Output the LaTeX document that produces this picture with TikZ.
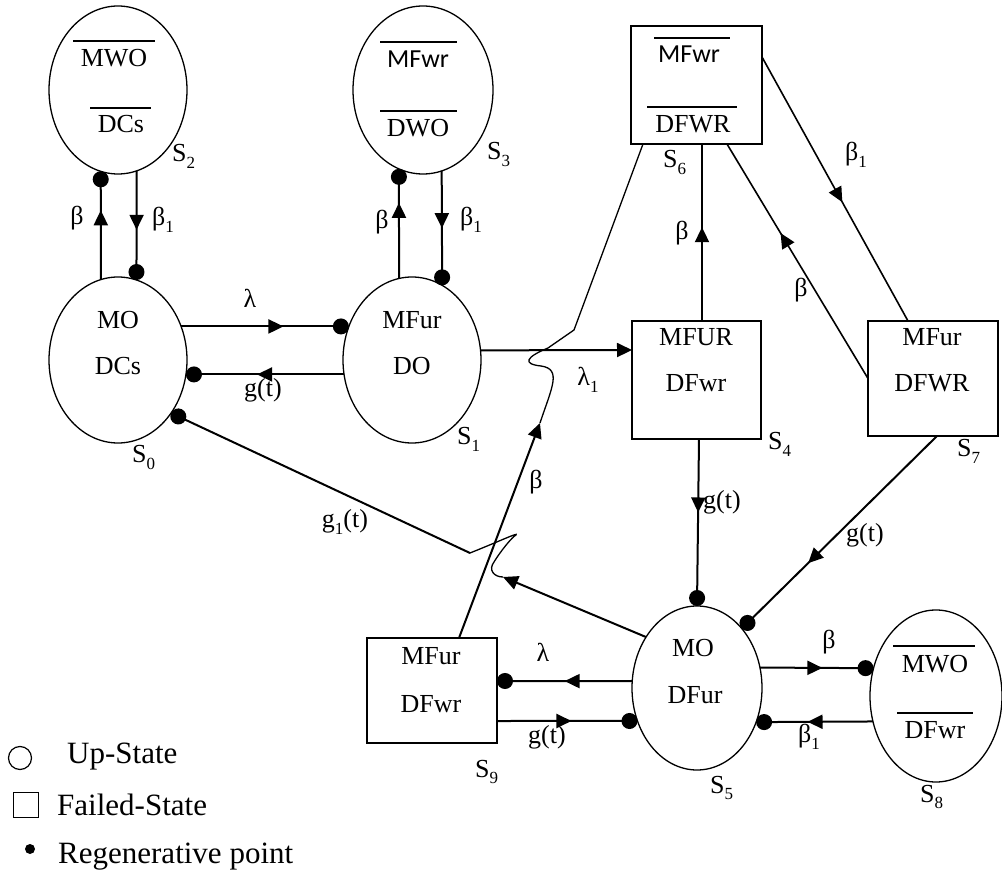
\documentclass[tikz,border=0pt]{standalone}
\usepackage{fontspec}
\setmainfont{Liberation Serif}
\newfontfamily\calib{Carlito}
\usetikzlibrary{shapes.geometric,arrows.meta,decorations.markings,calc}
\newcommand{\dn}[1]{\raisebox{-0.25em}{\fontsize{17}{17}\selectfont #1}}
\begin{document}
\begin{tikzpicture}[x=1pt,y=-1pt,
  conn/.style={line width=2pt},
  thinconn/.style={line width=1.3pt},
  dotend/.style={-{Circle[length=16pt]}},
  tipend/.style={-{Triangle[length=15pt,width=14pt]}},
  mid/.style={postaction={decorate,decoration={markings,mark=at position #1 with {\arrow{Triangle[length=15pt,width=14pt]}}}}},
  stE/.style={ellipse, draw, line width=1.3pt, inner sep=0pt, outer sep=0pt},
  stR/.style={rectangle, draw, line width=1.5pt, inner sep=0pt, outer sep=0pt},
  txt/.style={font=\fontsize{26}{30}\selectfont, inner sep=0pt, anchor=base},
  el/.style={font=\fontsize{26}{30}\selectfont, inner sep=0pt},
  sl/.style={font=\fontsize{26}{30}\selectfont, inner sep=0pt, anchor=base west},
  lg/.style={font=\fontsize{31}{35}\selectfont, inner sep=0pt, anchor=base west},
  ovl/.style={line width=1.3pt}
]
\useasboundingbox (0,0) rectangle (1002,882);

% ---------- states ----------
\node[stE, minimum width=138pt, minimum height=166pt] (s0) at (118,360) {};
\node[stE, minimum width=138pt, minimum height=166pt] (s1) at (412,360) {};
\node[stE, minimum width=138pt, minimum height=168pt] (s2) at (118,90) {};
\node[stE, minimum width=140pt, minimum height=168pt] (s3) at (423,90) {};
\node[stE, minimum width=130pt, minimum height=164pt] (s5) at (697,688) {};
\node[stE, minimum width=132pt, minimum height=172pt] (s8) at (936,696) {};
\node[stR, minimum width=129pt, minimum height=118pt] (s4) at (696.5,380) {};
\node[stR, minimum width=131pt, minimum height=118pt] (s6) at (696.5,85) {};
\node[stR, minimum width=130pt, minimum height=115pt] (s7) at (933,378.5) {};
\node[stR, minimum width=130pt, minimum height=105pt] (s9) at (432,690.5) {};

% ---------- state texts ----------
\node[txt] (t0a) at (118,329) {MO};
\node[txt] (t0b) at (118,375) {DCs};
\node[txt] (t1a) at (412,329) {MFur};
\node[txt] (t1b) at (412,375) {DO};
\node[txt] (t2a) at (114,67) {MWO};
\node[txt] (t2b) at (121,133) {DCs};
\draw[ovl] (73,41) -- (155,41);
\draw[ovl] (90,108) -- (151,108);
\node[txt] (t3a) at (418,68) {\calib MFwr};
\node[txt] (t3b) at (418,137) {DWO};
\draw[ovl] (380,42) -- (457,42);
\draw[ovl] (380,111) -- (457,111);
\node[txt] (t6a) at (689,63) {\calib MFwr};
\node[txt] (t6b) at (693,133) {DFWR};
\draw[ovl] (654,38) -- (730,38);
\draw[ovl] (647,107) -- (737,107);
\node[txt] (t4a) at (696,346) {MFUR};
\node[txt] (t4b) at (696,392) {DFwr};
\node[txt] (t7a) at (932,346) {MFur};
\node[txt] (t7b) at (932,392) {DFWR};
\node[txt] (t9a) at (431,664) {MFur};
\node[txt] (t9b) at (431,712) {DFwr};
\node[txt] (t5a) at (693,656) {MO};
\node[txt] (t5b) at (695,703) {DFur};
\node[txt] (t8a) at (935,672) {MWO};
\node[txt] (t8b) at (935,738) {DFwr};
\draw[ovl] (893,646) -- (975,646);
\draw[ovl] (897,713) -- (973,713);

% ---------- state labels ----------
\node[sl] (l0) at (132,463) {S\dn{0}};
\node[sl] (l1) at (457,445) {S\dn{1}};
\node[sl] (l2) at (172,162) {S\dn{2}};
\node[sl] (l3) at (487,160) {S\dn{3}};
\node[sl] (l4) at (768,450) {S\dn{4}};
\node[sl] (l5) at (710,793) {S\dn{5}};
\node[sl] (l6) at (663,168) {S\dn{6}};
\node[sl] (l7) at (957,457) {S\dn{7}};
\node[sl] (l8) at (920,802) {S\dn{8}};
\node[sl] (l9) at (475,777) {S\dn{9}};

% ---------- connectors ----------
\draw[conn, dotend, mid=0.64] (s0.102) -- (s2.258);
\draw[conn, dotend, mid=0.54] (s2.-77) -- (s0.77);
\draw[conn, dotend, mid=0.69] (s1.99) -- (s3.253);
\draw[conn, dotend, mid=0.5] (s3.-77) -- (s1.68);
\draw[conn, dotend, mid=0.61] (s0.28) -- (s1.152);
\draw[conn, dotend, mid=0.55] (s1.192) -- (s0.-12);
\draw[conn, tipend] (s1.8) -- ($(s4.west)+(0,-30)$);
\draw[conn, mid=0.53] ($(s4.north)+(5.5,0)$) -- ($(s6.south)+(5.5,0)$);
\draw[line width=1.6pt, mid=0.62] (s7.west) -- ($(s6.south)+(30.5,0)$);
\draw[line width=1.6pt, mid=0.55] ($(s6.east)+(0,-28)$) -- ($(s7.north)+(-25,0)$);
\draw[conn, dotend, mid=0.44] ($(s4.south)+(2.5,0)$) -- (s5.north);
\draw[conn, dotend, mid=0.66] ($(s7.south)+(4,0)$) -- (s5.53);
\draw[conn, dotend, mid=0.55] (s5.18) -- (s8.156);
\draw[conn, dotend, mid=0.56] (s8.202) -- (s5.-30);
\draw[conn, dotend, mid=0.5] (s5.174) -- ($(s9.east)+(0,-9.5)$);
\draw[conn, dotend, mid=0.53] ($(s9.east)+(0,30.5)$) -- (s5.209);

% S9 -> S6 (beta) with jump over lambda1
\coordinate (p1) at (540,423);
\coordinate (p2) at (574,330);
\draw[conn, tipend] ($(s9.north)+(27,0)$) -- (p1);
\draw[thinconn] (p1) .. controls (552,387) and (562,369) .. (541,366)
   .. controls (522,364) and (526,357) .. (548,348) -- (p2)
   -- ($(s6.south west)+(12,0)$);

% S5 -> S0 (g1(t)) with jump over beta
\coordinate (q1) at (503,577);
\coordinate (q2) at (470,553);
\draw[conn, tipend] (s5.135) -- (q1);
\draw[thinconn] (q1) .. controls (494,577) and (488,570) .. (494,562)
   .. controls (500,552) and (512,537) .. (516,535)
   .. controls (519,532) and (500,541) .. (q2);
\draw[conn, dotend] (q2) -- (s0.-45);

% ---------- transition labels ----------
\node[el] (e1) at (77,218) {β};
\node[el] (e2) at (163,220) {β\dn{1}};
\node[el] (e3) at (382,222) {β};
\node[el] (e4) at (471,220) {β\dn{1}};
\node[el] (e5) at (250,298) {λ};
\node[el] (e6) at (263,390) {g(t)};
\node[el] (e7) at (345,522) {g\dn{1}(t)};
\node[el] (e8) at (588,380) {λ\dn{1}};
\node[el] (e9) at (682,233) {β};
\node[el] (e10) at (801,290) {β};
\node[el] (e11) at (856,155) {β\dn{1}};
\node[el] (e12) at (722,502) {g(t)};
\node[el] (e13) at (865,535) {g(t)};
\node[el] (e14) at (536,482) {β};
\node[el] (e15) at (543,652) {λ};
\node[el] (e16) at (547,737) {g(t)};
\node[el] (e17) at (829,642) {β};
\node[el] (e18) at (809,737) {β\dn{1}};

% ---------- legend ----------
\node[draw, circle, minimum size=23pt, line width=1.2pt, inner sep=0pt] (lc) at (20,758) {};
\node[lg] (lt1) at (67,763) {Up-State};
\node[draw, rectangle, minimum size=25pt, line width=1.2pt, inner sep=0pt] (lr) at (26,805) {};
\node[lg] (lt2) at (57,815) {Failed-State};
\node[circle, fill, minimum size=10pt, inner sep=0pt] (ld) at (30,849) {};
\node[lg] (lt3) at (58,863) {Regenerative point};
\end{tikzpicture}
\end{document}
